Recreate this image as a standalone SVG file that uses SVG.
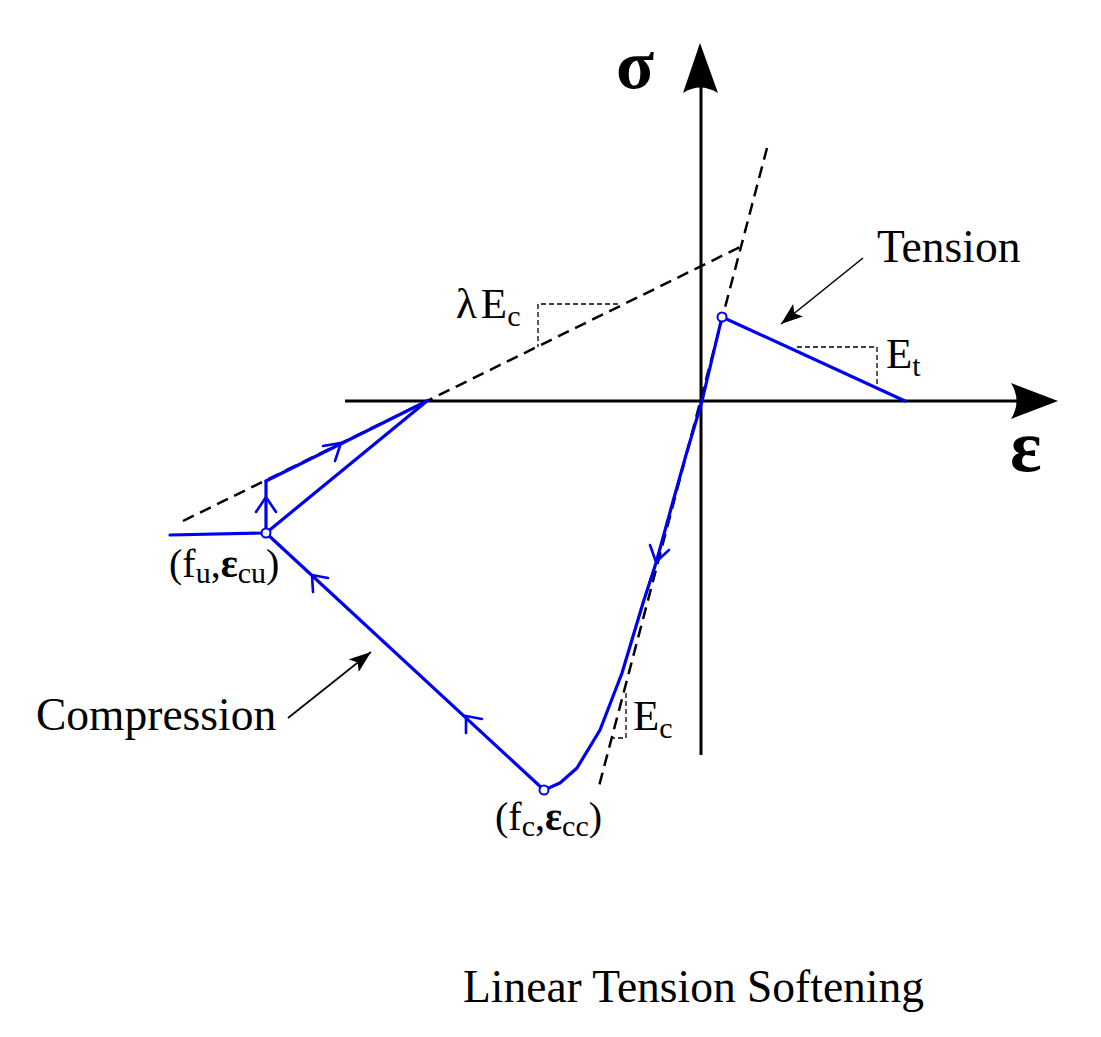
<svg xmlns="http://www.w3.org/2000/svg" width="1101" height="1037" viewBox="0 0 1101 1037">
<style>
.ax{stroke:#000;stroke-width:3;fill:none}
.dash{stroke:#000;stroke-width:2.5;fill:none;stroke-dasharray:12 7}
.thin{stroke:#000;stroke-width:1.3;fill:none;stroke-dasharray:5 3}
.blue{stroke:#0000ee;stroke-width:3.2;fill:none;stroke-linejoin:round;stroke-linecap:round}
.chev{stroke:#0000ee;stroke-width:2.6;fill:none;stroke-linecap:round;stroke-linejoin:miter}
.pt{stroke:#0000ee;stroke-width:2;fill:#fff}
.lead{stroke:#000;stroke-width:1.6;fill:none}
text{font-family:"Liberation Serif","Times New Roman",serif;fill:#000}
.big{font-size:45.5px}
.lbl{font-size:43px}
.sub{font-size:30px}
.co{font-size:40px}
</style>
<defs>
<marker id="ah" markerWidth="24" markerHeight="16" refX="22" refY="8" orient="auto" markerUnits="userSpaceOnUse">
<path d="M0,0 L22,8 L0,16 L5,8 Z" fill="#000"/>
</marker>
</defs>
<rect width="1101" height="1037" fill="#fff"/>
<g id="axes">
<line class="ax" x1="701" y1="755" x2="701" y2="80"/>
<path d="M700,43 L683,93 Q700,82 718,93 Z" fill="#000"/>
<line class="ax" x1="345" y1="401" x2="1020" y2="401"/>
<path d="M1058,401 L1011,383 Q1022,401 1011,419 Z" fill="#000"/>
<text x="616" y="88" font-size="70" font-weight="bold">σ</text>
<text x="1010" y="471" font-size="74" font-weight="bold">ε</text>
</g>
<g id="guides">
<line class="dash" x1="767" y1="148" x2="598" y2="790"/>
<line class="dash" x1="183" y1="521" x2="740" y2="247"/>
<polyline class="thin" points="618,304 538,304 538,347"/>
<polyline class="thin" points="797,347 877,347 877,387"/>
<polyline class="thin" points="626,693 626,738 613,738"/>
</g>
<g id="connectors">
<polyline class="blue" points="702,401 722,317 905,401"/>
<polyline class="blue" points="702,401 686,455 672,505 656,563 643,603 622,673 600,730 577,768 560,783 544,790"/>
<line class="blue" x1="544" y1="790" x2="266" y2="533"/>
<line class="blue" x1="266" y1="533" x2="427" y2="401"/>
<line class="blue" x1="170" y1="535" x2="266" y2="533"/>
<line class="blue" x1="266" y1="533" x2="266" y2="481"/>
<line class="blue" x1="266" y1="481" x2="427" y2="401"/>
<polyline class="chev" points="650,545 656,562 669,550"/>
<polyline class="chev" points="482,719 466,716 466,733"/>
<polyline class="chev" points="328,578 312,575 313,592"/>
<polyline class="chev" points="256,512 266,497 276,512"/>
<polyline class="chev" points="323,446 341,443 335,461"/>
<circle class="pt" cx="722" cy="317" r="4.5"/>
<circle class="pt" cx="266" cy="533" r="4.5"/>
<circle class="pt" cx="544" cy="790" r="4.5"/>
<line class="lead" x1="863" y1="258" x2="781" y2="324" marker-end="url(#ah)"/>
<line class="lead" x1="288" y1="718" x2="371" y2="652" marker-end="url(#ah)"/>
</g>
<g id="labels">
<text class="big" x="877" y="262">Tension</text>
<text class="big" x="36" y="730">Compression</text>
<text class="lbl" x="886" y="368">E<tspan class="sub" dy="8">t</tspan></text>
<text class="lbl" x="456" y="318">λ<tspan dx="4">E</tspan><tspan class="sub" dy="8">c</tspan></text>
<text class="lbl" x="633" y="730">E<tspan class="sub" dy="8">c</tspan></text>
<text class="co" x="169" y="577">(f<tspan class="sub" dy="6">u</tspan><tspan dy="-6">,</tspan><tspan font-weight="bold">ε</tspan><tspan class="sub" dy="6">cu</tspan><tspan dy="-6">)</tspan></text>
<text class="co" x="495" y="830">(f<tspan class="sub" dy="6">c</tspan><tspan dy="-6">,</tspan><tspan font-weight="bold">ε</tspan><tspan class="sub" dy="6">cc</tspan><tspan dy="-6">)</tspan></text>
<text class="big" x="463" y="1002">Linear Tension Softening</text>
</g>
</svg>
